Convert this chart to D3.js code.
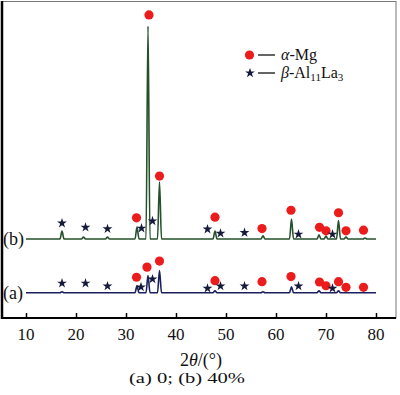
<!DOCTYPE html>
<html>
<head>
<meta charset="utf-8">
<script src="https://cdn.jsdelivr.net/npm/d3@7"></script>
<style>
  body { margin: 0; background: #fff; }
  text { font-family: "Liberation Serif", "Times New Roman", serif; fill: #111; }
</style>
</head>
<body>
<div id="app"></div>
<script>
// XRD peaks: [2theta, height above baseline]
var peaksA = [[17.2, 3], [32.2, 22], [34.4, 54], [36.7, 70], [47.8, 6], [57.4, 3],
  [63.1, 19], [68.6, 6], [72.5, 6]];
var peaksB = [[17.2, 25], [21.5, 6], [26.3, 6], [32.2, 38], [34.4, 674], [36.7, 180],
  [47.8, 25], [57.4, 10], [63.1, 63], [68.6, 13], [70.0, 9], [72.5, 58], [74.0, 6], [77.8, 3]];
var offsetA = 80, offsetB = 250;

// phase markers: [2theta, level]
var mgA = [[32.1, 129], [34.2, 161], [36.7, 180], [47.8, 118], [57.2, 115], [63.0, 131],
  [68.7, 114], [70.0, 102], [72.5, 115], [74.0, 97], [77.5, 97]];
var alA = [[17.2, 110], [21.9, 110], [26.3, 101], [33.0, 98], [35.3, 123], [46.3, 94],
  [48.9, 101], [53.7, 101], [64.5, 101], [71.3, 94]];
var mgB = [[32.1, 317], [34.6, 959], [36.7, 449], [47.8, 319], [57.2, 283], [63.0, 341],
  [68.7, 287], [70.0, 276], [72.5, 333], [74.0, 276], [77.5, 278]];
var alB = [[17.2, 300], [21.9, 287], [26.3, 282], [33.1, 284], [35.3, 307], [46.3, 281],
  [48.9, 268], [53.7, 270], [64.5, 265], [71.3, 265]];

var xTicks = [10, 20, 30, 40, 50, 60, 70, 80];
var curveLabels = ["(a)", "(b)"];

var width = 400, height = 395;

var svg = d3.select("#app").append("svg")
  .attr("width", width)
  .attr("height", height);

var x = d3.scaleLinear().domain([5.2, 84]).range([2, 396]);
var y = d3.scaleLinear().domain([0, 1000]).range([318, 2]);

// frame
svg.append("rect")
  .attr("x", 2).attr("y", 1.5).attr("width", 394).attr("height", 316.5)
  .attr("fill", "none").attr("stroke", "#777").attr("stroke-width", 1);
svg.append("line").attr("x1", 2).attr("x2", 2).attr("y1", 1).attr("y2", 319)
  .attr("stroke", "#000").attr("stroke-width", 2.5);

// bottom axis, ticks pointing inward
var xAxis = svg.append("g")
  .attr("transform", "translate(0,318)")
  .call(d3.axisTop(x).tickValues(xTicks).tickSize(5).tickFormat(""));
xAxis.select(".domain").remove();
xAxis.selectAll("line").attr("stroke", "#000").attr("stroke-width", 1.5);
svg.append("line").attr("x1", 2).attr("x2", 396).attr("y1", 318).attr("y2", 318)
  .attr("stroke", "#000").attr("stroke-width", 2);

svg.selectAll(".tick-label")
  .data(xTicks)
  .enter().append("text")
  .attr("class", "tick-label")
  .attr("x", d => x(d))
  .attr("y", 340)
  .attr("text-anchor", "middle")
  .attr("font-size", 17)
  .text(d => d);

var xt = svg.append("text")
  .attr("x", x(45))
  .attr("y", 366)
  .attr("text-anchor", "middle")
  .attr("font-size", 18);
xt.append("tspan").text("2");
xt.append("tspan").attr("font-style", "italic").text("θ");
xt.append("tspan").text("/(°)");

svg.append("text")
  .attr("x", 187)
  .attr("y", 383)
  .attr("text-anchor", "middle")
  .attr("font-size", 15)
  .attr("textLength", 116)
  .attr("lengthAdjust", "spacingAndGlyphs")
  .text("(a) 0; (b) 40%");

// build profile points from peak list
function profile(peaks, offset) {
  var pts = [[10, offset]];
  peaks.forEach(p => {
    pts.push([p[0] - 0.4, offset]);
    pts.push([p[0], offset + p[1]]);
    pts.push([p[0] + 0.4, offset]);
  });
  pts.push([80, offset]);
  return pts;
}

var line = d3.line()
  .x(d => x(d[0]))
  .y(d => y(d[1]))
  .curve(d3.curveMonotoneX);

svg.append("path")
  .datum(profile(peaksA, offsetA))
  .attr("d", line)
  .attr("fill", "none")
  .attr("stroke", "#1c1f5e")
  .attr("stroke-width", 1.6);

svg.append("path")
  .datum(profile(peaksB, offsetB))
  .attr("d", line)
  .attr("fill", "none")
  .attr("stroke", "#24502a")
  .attr("stroke-width", 1.6);

svg.selectAll(".curve-label")
  .data(curveLabels)
  .enter().append("text")
  .attr("class", "curve-label")
  .attr("x", 3)
  .attr("y", (d, i) => y(i === 0 ? offsetA : offsetB) + 6)
  .attr("font-size", 18)
  .text(d => d);

// markers
var star = d3.symbol().type(d3.symbolStar).size(30);

svg.selectAll(".mg")
  .data(mgA.concat(mgB))
  .enter().append("circle")
  .attr("class", "mg")
  .attr("cx", d => x(d[0]))
  .attr("cy", d => y(d[1]))
  .attr("r", 4.6)
  .attr("fill", "#ec1c1c");

svg.selectAll(".al")
  .data(alA.concat(alB))
  .enter().append("path")
  .attr("class", "al")
  .attr("d", star)
  .attr("transform", d => "translate(" + x(d[0]) + "," + y(d[1]) + ")")
  .attr("fill", "#15193a");

// legend
var legend = svg.append("g");
legend.append("circle").attr("cx", 249.5).attr("cy", 55).attr("r", 4.6).attr("fill", "#ec1c1c");
legend.append("path").attr("d", star).attr("transform", "translate(250,73)").attr("fill", "#15193a");
legend.selectAll("line")
  .data([55, 73])
  .enter().append("line")
  .attr("x1", 258).attr("x2", 275)
  .attr("y1", d => d).attr("y2", d => d)
  .attr("stroke", "#111").attr("stroke-width", 1.3);

var t1 = legend.append("text").attr("x", 281).attr("y", 60).attr("font-size", 16);
t1.append("tspan").attr("font-style", "italic").text("α");
t1.append("tspan").text("-Mg");

var t2 = legend.append("text").attr("x", 281).attr("y", 78).attr("font-size", 16);
t2.append("tspan").attr("font-style", "italic").text("β");
t2.append("tspan").text("-Al");
t2.append("tspan").attr("font-size", 11).attr("dy", 3).text("11");
t2.append("tspan").attr("dy", -3).text("La");
t2.append("tspan").attr("font-size", 11).attr("dy", 3).text("3");
</script>
</body>
</html>
